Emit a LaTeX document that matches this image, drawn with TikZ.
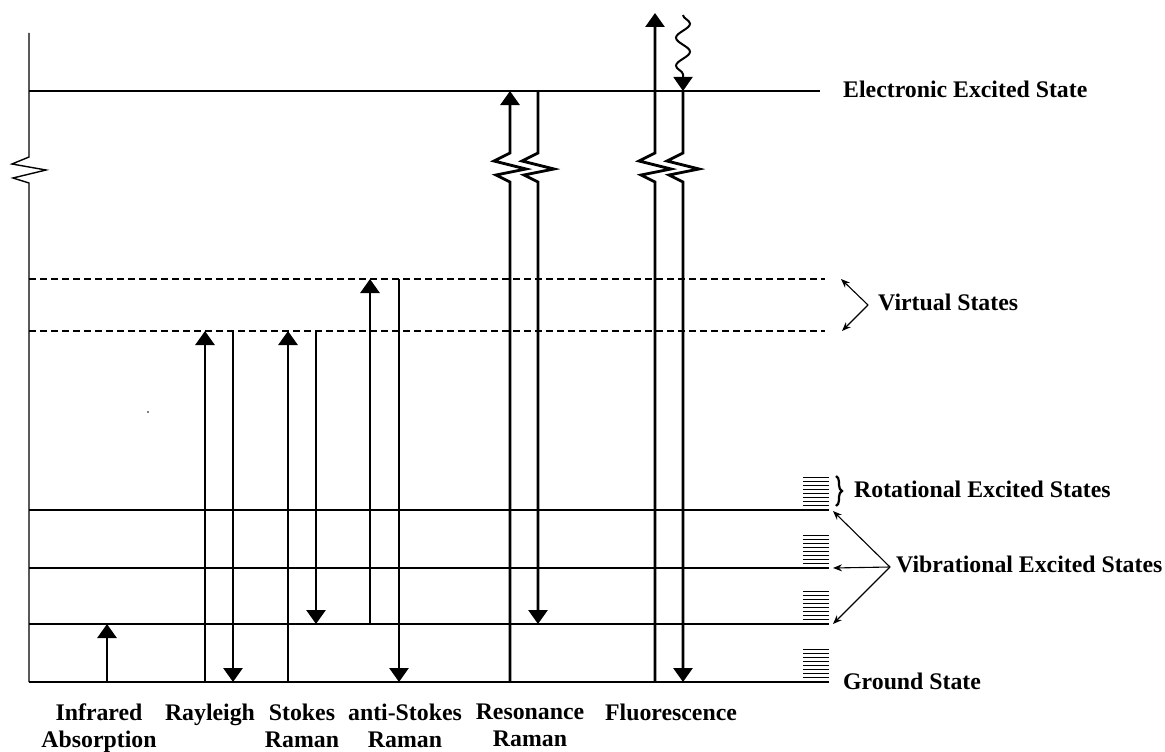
\documentclass[tikz,border=0pt]{standalone}
\usepackage{fontspec}
\setmainfont{Liberation Serif}
\usetikzlibrary{arrows.meta,decorations.pathmorphing,decorations.pathreplacing}
\begin{document}
\begin{tikzpicture}[x=1pt,y=-1pt,
  lvl/.style={line width=1.4pt},
  vdash/.style={line width=1.3pt, dash pattern=on 7pt off 4pt},
  thk/.style={line width=2.8pt},
  thkarrow/.style={thk,-{Triangle[width=19pt,length=14pt]}},
  thinarrow/.style={line width=1.1pt,-{Stealth[length=9pt,width=7pt]}},
  lbl/.style={font=\bfseries\fontsize{23.8}{27}\selectfont, inner sep=0pt},
  blbl/.style={lbl, align=center, anchor=north},
  rotline/.style={line width=0.9pt}
]
\useasboundingbox (0,0) rectangle (1165,752);

% ---- level coordinates
\coordinate (axT) at (29,33);
\coordinate (axZ) at (29,157);
\coordinate (axB) at (29,682);
\coordinate (E0) at (29,91);   \coordinate (E1) at (820,91);
\coordinate (VU0) at (29,279); \coordinate (VU1) at (825,279);
\coordinate (VL0) at (29,331); \coordinate (VL1) at (825,331);
\coordinate (L3a) at (29,510); \coordinate (L3b) at (829,510);
\coordinate (L2a) at (29,568); \coordinate (L2b) at (829,568);
\coordinate (L1a) at (29,624); \coordinate (L1b) at (829,624);
\coordinate (G0) at (29,682);  \coordinate (G1) at (829,682);
\coordinate (zb) at (0,182);
\coordinate (zt) at (0,153);

% ---- axis with break
\draw[lvl] (axT) -- (axZ) -- ++(-17,7) -- ++(34,6) -- ++(-33,8) -- ++(16,5) -- (axB);

% ---- levels
\draw[lvl] (E0) -- (E1);
\draw[vdash] (VU0) -- (VU1);
\draw[vdash] (VL0) -- (VL1);
\draw[lvl] (L3a) -- (L3b);
\draw[lvl] (L2a) -- (L2b);
\draw[lvl] (L1a) -- (L1b);
\draw[lvl] (G0) -- (G1);

% ---- rotational sub-levels
\foreach \b in {505,563,619,677}{
  \foreach \k in {0,...,7}{
    \draw[rotline] (803,{\b-4*\k}) -- (829,{\b-4*\k});
  }
}

% stray dot
\fill (148,412) circle (0.8);

% ---- transition coordinates
\coordinate (ir0) at (107,682); \coordinate (ir1) at (107,624);
\coordinate (ra0) at (205,682); \coordinate (ra1) at (205,331);
\coordinate (rb0) at (233,331); \coordinate (rb1) at (233,682);
\coordinate (sa0) at (288,682); \coordinate (sa1) at (288,331);
\coordinate (sb0) at (316,331); \coordinate (sb1) at (316,624);
\coordinate (aa0) at (370,624); \coordinate (aa1) at (370,279);
\coordinate (ab0) at (399,279); \coordinate (ab1) at (399,682);
\coordinate (rr0) at (510,682); \coordinate (rr1) at (510,91);
\coordinate (rs0) at (538,91);  \coordinate (rs1) at (538,624);
\coordinate (fa0) at (655,682); \coordinate (fa1) at (655,13);
\coordinate (fb0) at (683,91);  \coordinate (fb1) at (683,682);
\coordinate (wv0) at (683,15);  \coordinate (wv1) at (683,91);

% ---- transitions
\draw[thkarrow] (ir0) -- (ir1);
\draw[thkarrow] (ra0) -- (ra1);
\draw[thkarrow] (rb0) -- (rb1);
\draw[thkarrow] (sa0) -- (sa1);
\draw[thkarrow] (sb0) -- (sb1);
\draw[thkarrow] (aa0) -- (aa1);
\draw[thkarrow] (ab0) -- (ab1);
\draw[thkarrow] (rr0) -- (rr0 |- zb) -- ++(-14,-7) -- ++(30,-6) -- ++(-32,-8) -- ++(16,-8) -- (rr1);
\draw[thkarrow] (rs0) -- (rs0 |- zt) -- ++(-16,8) -- ++(32,8) -- ++(-30,6) -- ++(14,7) -- (rs1);
\draw[thkarrow] (fa0) -- (fa0 |- zb) -- ++(-14,-7) -- ++(30,-6) -- ++(-32,-8) -- ++(16,-8) -- (fa1);
\draw[thkarrow] (fb0) -- (fb0 |- zt) -- ++(-16,8) -- ++(32,8) -- ++(-30,6) -- ++(14,7) -- (fb1);
\draw[line width=2pt, decorate, decoration={snake, amplitude=7pt, segment length=28pt, post length=14pt},
      -{Triangle[width=19pt,length=14pt]}] (wv0) -- (wv1);

% ---- right-hand labels and pointers
\node[lbl, anchor=base west] (tE) at (843,98) {Electronic Excited State};
\node[lbl, anchor=base west] (tV) at (878,310) {Virtual States};
\node[lbl, anchor=base west] (tR) at (854,497) {Rotational Excited States};
\node[lbl, anchor=base west] (tVib) at (896,572) {Vibrational Excited States};
\node[lbl, anchor=base west] (tG) at (843,689) {Ground State};

\coordinate (vap) at (868,305);
\coordinate (vt1) at (841,279);
\coordinate (vt2) at (842,331);
\draw[thinarrow] (vap) -- (vt1);
\draw[thinarrow] (vap) -- (vt2);

\coordinate (bap) at (890,567);
\coordinate (bt1) at (833,511);
\coordinate (bt2) at (833,568);
\coordinate (bt3) at (833,624);
\draw[thinarrow] (bap) -- (bt1);
\draw[thinarrow] (bap) -- (bt2);
\draw[thinarrow] (bap) -- (bt3);

\coordinate (br0) at (836,476);
\coordinate (br1) at (836,506);
\draw[line width=2.2pt, decorate, decoration={brace, amplitude=6pt}] (br0) -- (br1);

% ---- bottom labels
\node[blbl] (lIR)  at (99,704)  {Infrared\\Absorption};
\node[blbl] (lRay) at (210,704) {Rayleigh};
\node[blbl] (lSt)  at (302,704) {Stokes\\Raman};
\node[blbl] (lASt) at (405,704) {anti-Stokes\\Raman};
\node[blbl] (lRes) at (530,704) {Resonance\\Raman};
\node[blbl] (lFl)  at (671,704) {Fluorescence};
\end{tikzpicture}
\end{document}
